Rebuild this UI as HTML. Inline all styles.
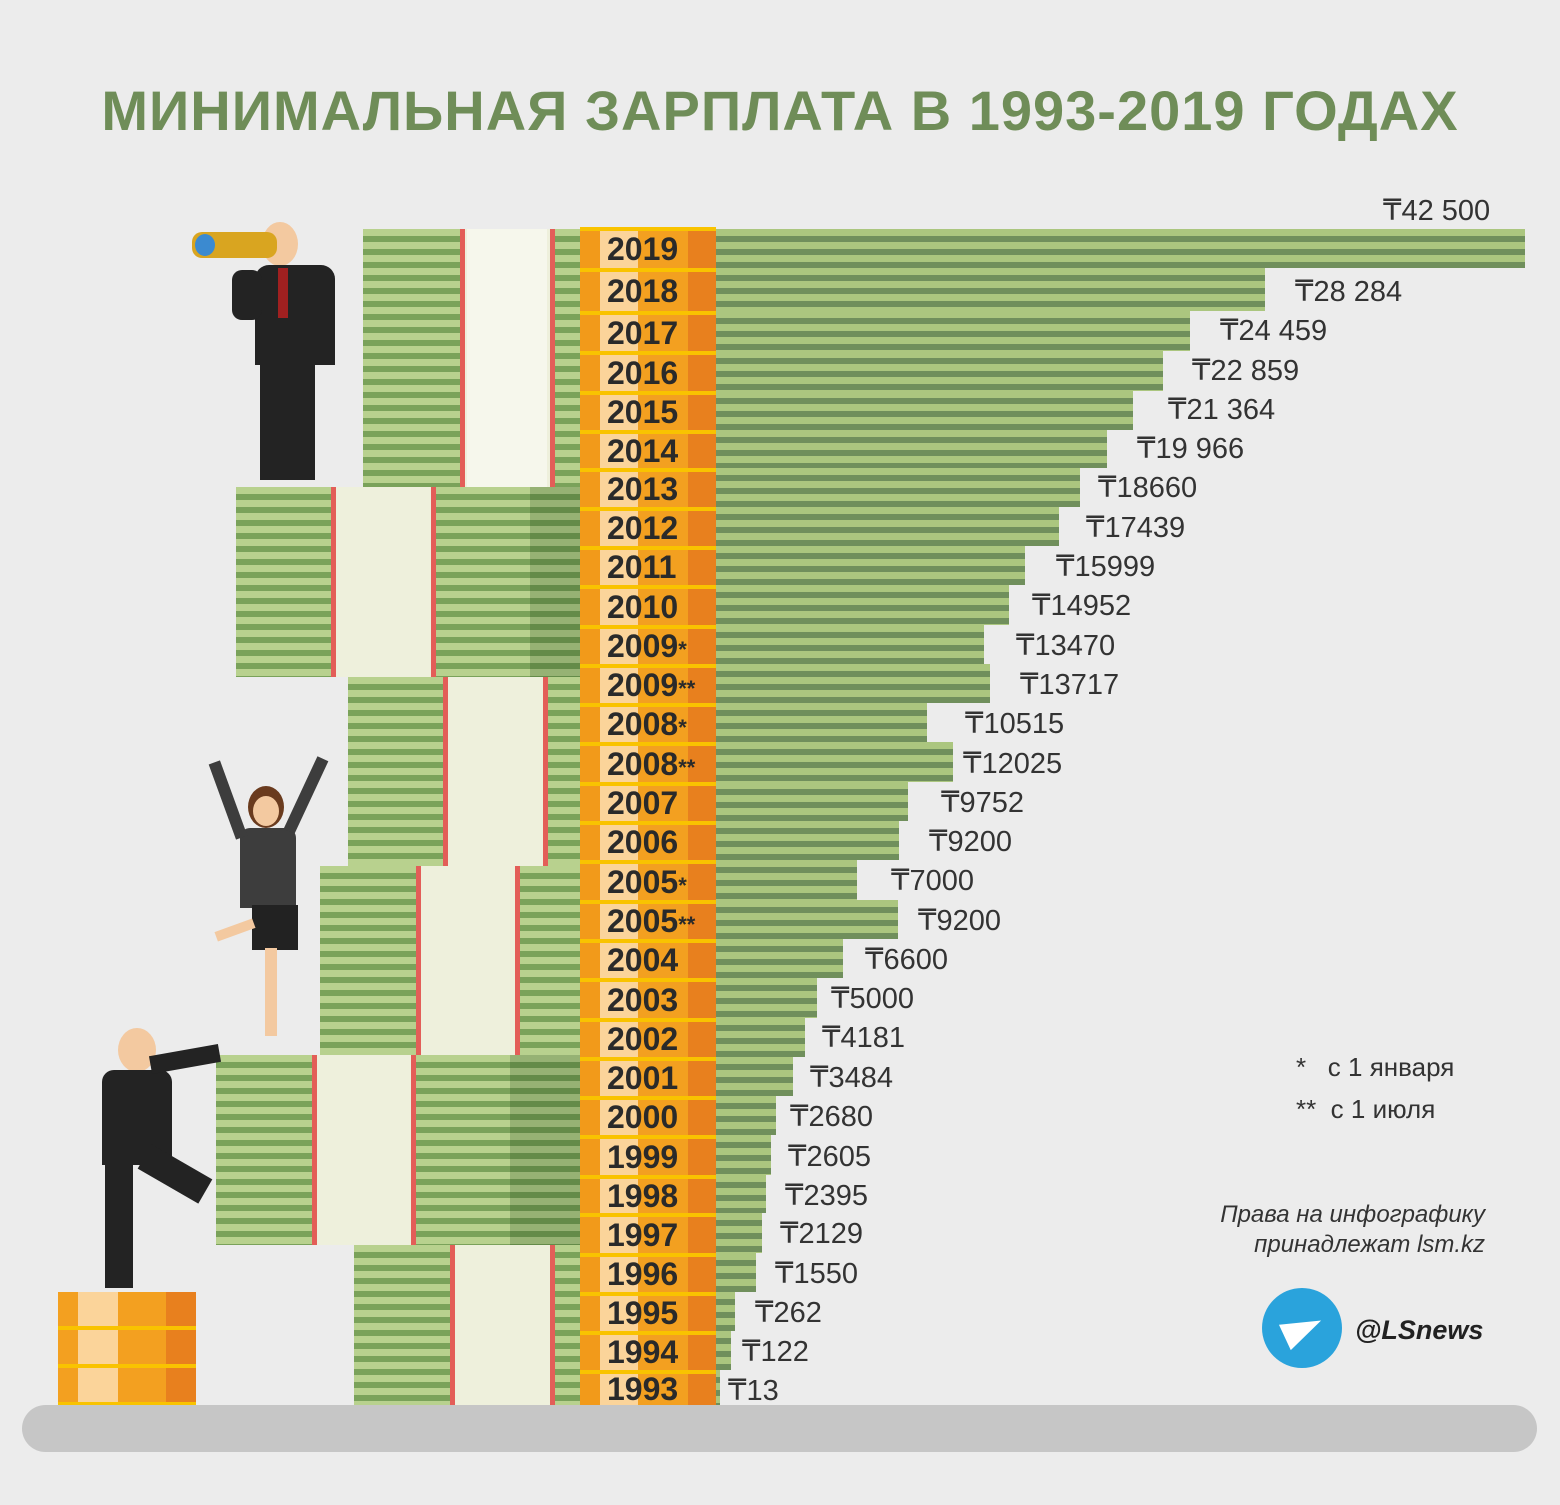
<!DOCTYPE html>
<html><head><meta charset="utf-8"><style>
body{margin:0;width:1560px;height:1505px;background:#ececec;position:relative;overflow:hidden;font-family:"Liberation Sans","DejaVu Sans",sans-serif}
div{position:absolute;box-sizing:border-box}
.t{left:0;width:1560px;top:78px;text-align:center;font-size:56px;font-weight:bold;color:#6f8d58;letter-spacing:1px}
.bar{left:716px;background:repeating-linear-gradient(180deg,#abc67f 0,#abc67f 7px,#708f5c 7px,#708f5c 13px);}
.yr{left:580px;width:136px;background:linear-gradient(90deg,#f29a1a 0,#f29a1a 20px,#fbd49a 20px,#fbd49a 58px,#f3a020 58px,#f3a020 108px,#e8801e 108px);border-top:4px solid #f9c300;font-weight:bold;font-size:32px;color:#2a2a2a;display:flex;align-items:center}
.yr span{width:136px;text-align:left;padding-left:27px;white-space:nowrap}
.yr small{font-size:22px}
.lb{font-size:29px;color:#333;white-space:nowrap}
.st{background:repeating-linear-gradient(180deg,#b8d18e 0,#b8d18e 7px,#7aa25a 7px,#7aa25a 13px)}
.bd{background:#eef0dc;border-left:5px solid #e35e58;border-right:5px solid #e35e58}
.suit{background:#232323}
</style></head><body>
<div class="t">МИНИМАЛЬНАЯ ЗАРПЛАТА В 1993-2019 ГОДАХ</div>

<div class="st" style="left:363px;top:229px;width:217px;height:258px"></div>
<div class="bd" style="left:460px;top:229px;width:95px;height:258px"><div style="left:2px;width:80px;top:0;bottom:0;background:#f6f7ec"></div></div>
<div class="st" style="left:236px;top:487px;width:344px;height:190px"></div>
<div style="left:530px;top:487px;width:50px;height:190px;background:rgba(0,40,0,.18)"></div>
<div class="bd" style="left:331px;top:487px;width:105px;height:190px"></div>
<div class="st" style="left:348px;top:677px;width:232px;height:189px"></div>
<div class="bd" style="left:443px;top:677px;width:105px;height:189px"></div>
<div class="st" style="left:320px;top:866px;width:260px;height:189px"></div>
<div class="bd" style="left:416px;top:866px;width:104px;height:189px"></div>
<div class="st" style="left:216px;top:1055px;width:364px;height:190px"></div>
<div style="left:510px;top:1055px;width:70px;height:190px;background:rgba(0,40,0,.18)"></div>
<div class="bd" style="left:312px;top:1055px;width:104px;height:190px"></div>
<div class="st" style="left:354px;top:1245px;width:226px;height:160px"></div>
<div class="bd" style="left:450px;top:1245px;width:105px;height:160px"></div>
<div style="left:58px;top:1292px;width:138px;height:113px;background:repeating-linear-gradient(180deg,#f3a020 0,#f3a020 34px,#f9c300 34px,#f9c300 38px)"></div>
<div style="left:78px;top:1292px;width:40px;height:113px;background:repeating-linear-gradient(180deg,#fbd49a 0,#fbd49a 34px,transparent 34px,transparent 38px)"></div>
<div style="left:166px;top:1292px;width:30px;height:113px;background:repeating-linear-gradient(180deg,#e8801e 0,#e8801e 34px,transparent 34px,transparent 38px)"></div>
<div style="left:22px;top:1405px;width:1515px;height:47px;border-radius:24px;background:#c6c6c6"></div>

<div style="left:262px;top:222px;width:36px;height:44px;border-radius:50%;background:#f3c9a0"></div>
<div style="left:192px;top:232px;width:85px;height:26px;border-radius:10px;background:#d9a520"></div>
<div style="left:195px;top:234px;width:20px;height:22px;border-radius:50%;background:#3b8ad0"></div>
<div class="suit" style="left:255px;top:265px;width:80px;height:100px;border-radius:14px 14px 0 0"></div>
<div class="suit" style="left:232px;top:270px;width:30px;height:50px;border-radius:10px"></div>
<div class="suit" style="left:260px;top:360px;width:55px;height:120px"></div>
<div style="left:278px;top:268px;width:10px;height:50px;background:#a02020"></div>

<div style="left:248px;top:786px;width:36px;height:42px;border-radius:50%;background:#6a3b1e"></div>
<div style="left:253px;top:796px;width:26px;height:30px;border-radius:50%;background:#f3c9a0"></div>
<div style="left:240px;top:828px;width:56px;height:80px;border-radius:10px 10px 0 0;background:#3d3d3d"></div>
<div style="left:252px;top:905px;width:46px;height:45px;background:#222"></div>
<div style="left:222px;top:760px;width:12px;height:80px;background:#3d3d3d;transform:rotate(-20deg)"></div>
<div style="left:300px;top:755px;width:12px;height:80px;background:#3d3d3d;transform:rotate(25deg)"></div>
<div style="left:265px;top:948px;width:12px;height:88px;background:#f3c9a0"></div>
<div style="left:215px;top:925px;width:40px;height:10px;background:#f3c9a0;transform:rotate(-20deg)"></div>

<div style="left:118px;top:1028px;width:38px;height:44px;border-radius:50%;background:#f3c9a0"></div>
<div class="suit" style="left:102px;top:1070px;width:70px;height:95px;border-radius:12px 12px 0 0"></div>
<div class="suit" style="left:150px;top:1050px;width:70px;height:18px;transform:rotate(-10deg)"></div>
<div class="suit" style="left:105px;top:1160px;width:28px;height:128px"></div>
<div class="suit" style="left:140px;top:1160px;width:70px;height:28px;transform:rotate(30deg)"></div>

<div class="bar" style="top:229px;height:39px;width:809px"></div>
<div class="bar" style="top:268px;height:43px;width:549px"></div>
<div class="bar" style="top:311px;height:40px;width:474px"></div>
<div class="bar" style="top:351px;height:40px;width:447px"></div>
<div class="bar" style="top:391px;height:39px;width:417px"></div>
<div class="bar" style="top:430px;height:38px;width:391px"></div>
<div class="bar" style="top:468px;height:39px;width:364px"></div>
<div class="bar" style="top:507px;height:39px;width:343px"></div>
<div class="bar" style="top:546px;height:39px;width:309px"></div>
<div class="bar" style="top:585px;height:40px;width:293px"></div>
<div class="bar" style="top:625px;height:39px;width:268px"></div>
<div class="bar" style="top:664px;height:39px;width:274px"></div>
<div class="bar" style="top:703px;height:39px;width:211px"></div>
<div class="bar" style="top:742px;height:40px;width:237px"></div>
<div class="bar" style="top:782px;height:39px;width:192px"></div>
<div class="bar" style="top:821px;height:39px;width:183px"></div>
<div class="bar" style="top:860px;height:40px;width:141px"></div>
<div class="bar" style="top:900px;height:39px;width:182px"></div>
<div class="bar" style="top:939px;height:39px;width:127px"></div>
<div class="bar" style="top:978px;height:40px;width:101px"></div>
<div class="bar" style="top:1018px;height:39px;width:89px"></div>
<div class="bar" style="top:1057px;height:39px;width:77px"></div>
<div class="bar" style="top:1096px;height:39px;width:60px"></div>
<div class="bar" style="top:1135px;height:40px;width:55px"></div>
<div class="bar" style="top:1175px;height:38px;width:50px"></div>
<div class="bar" style="top:1213px;height:40px;width:46px"></div>
<div class="bar" style="top:1253px;height:39px;width:40px"></div>
<div class="bar" style="top:1292px;height:39px;width:19px"></div>
<div class="bar" style="top:1331px;height:39px;width:15px"></div>
<div class="bar" style="top:1370px;height:35px;width:4px"></div>

<div class="yr" style="top:227px;height:41px"><span>2019</span></div>
<div class="yr" style="top:268px;height:43px"><span>2018</span></div>
<div class="yr" style="top:311px;height:40px"><span>2017</span></div>
<div class="yr" style="top:351px;height:40px"><span>2016</span></div>
<div class="yr" style="top:391px;height:39px"><span>2015</span></div>
<div class="yr" style="top:430px;height:38px"><span>2014</span></div>
<div class="yr" style="top:468px;height:39px"><span>2013</span></div>
<div class="yr" style="top:507px;height:39px"><span>2012</span></div>
<div class="yr" style="top:546px;height:39px"><span>2011</span></div>
<div class="yr" style="top:585px;height:40px"><span>2010</span></div>
<div class="yr" style="top:625px;height:39px"><span>2009<small>*</small></span></div>
<div class="yr" style="top:664px;height:39px"><span>2009<small>**</small></span></div>
<div class="yr" style="top:703px;height:39px"><span>2008<small>*</small></span></div>
<div class="yr" style="top:742px;height:40px"><span>2008<small>**</small></span></div>
<div class="yr" style="top:782px;height:39px"><span>2007</span></div>
<div class="yr" style="top:821px;height:39px"><span>2006</span></div>
<div class="yr" style="top:860px;height:40px"><span>2005<small>*</small></span></div>
<div class="yr" style="top:900px;height:39px"><span>2005<small>**</small></span></div>
<div class="yr" style="top:939px;height:39px"><span>2004</span></div>
<div class="yr" style="top:978px;height:40px"><span>2003</span></div>
<div class="yr" style="top:1018px;height:39px"><span>2002</span></div>
<div class="yr" style="top:1057px;height:39px"><span>2001</span></div>
<div class="yr" style="top:1096px;height:39px"><span>2000</span></div>
<div class="yr" style="top:1135px;height:40px"><span>1999</span></div>
<div class="yr" style="top:1175px;height:38px"><span>1998</span></div>
<div class="yr" style="top:1213px;height:40px"><span>1997</span></div>
<div class="yr" style="top:1253px;height:39px"><span>1996</span></div>
<div class="yr" style="top:1292px;height:39px"><span>1995</span></div>
<div class="yr" style="top:1331px;height:39px"><span>1994</span></div>
<div class="yr" style="top:1370px;height:35px"><span>1993</span></div>

<div class="lb" style="left:1383px;top:193px">₸42 500</div>
<div class="lb" style="left:1295px;top:274px">₸28 284</div>
<div class="lb" style="left:1220px;top:313px">₸24 459</div>
<div class="lb" style="left:1192px;top:353px">₸22 859</div>
<div class="lb" style="left:1168px;top:392px">₸21 364</div>
<div class="lb" style="left:1137px;top:431px">₸19 966</div>
<div class="lb" style="left:1098px;top:470px">₸18660</div>
<div class="lb" style="left:1086px;top:510px">₸17439</div>
<div class="lb" style="left:1056px;top:549px">₸15999</div>
<div class="lb" style="left:1032px;top:588px">₸14952</div>
<div class="lb" style="left:1016px;top:628px">₸13470</div>
<div class="lb" style="left:1020px;top:667px">₸13717</div>
<div class="lb" style="left:965px;top:706px">₸10515</div>
<div class="lb" style="left:963px;top:746px">₸12025</div>
<div class="lb" style="left:941px;top:785px">₸9752</div>
<div class="lb" style="left:929px;top:824px">₸9200</div>
<div class="lb" style="left:891px;top:863px">₸7000</div>
<div class="lb" style="left:918px;top:903px">₸9200</div>
<div class="lb" style="left:865px;top:942px">₸6600</div>
<div class="lb" style="left:831px;top:981px">₸5000</div>
<div class="lb" style="left:822px;top:1020px">₸4181</div>
<div class="lb" style="left:810px;top:1060px">₸3484</div>
<div class="lb" style="left:790px;top:1099px">₸2680</div>
<div class="lb" style="left:788px;top:1139px">₸2605</div>
<div class="lb" style="left:785px;top:1178px">₸2395</div>
<div class="lb" style="left:780px;top:1216px">₸2129</div>
<div class="lb" style="left:775px;top:1256px">₸1550</div>
<div class="lb" style="left:755px;top:1295px">₸262</div>
<div class="lb" style="left:742px;top:1334px">₸122</div>
<div class="lb" style="left:728px;top:1373px">₸13</div>

<div class="lb" style="left:1296px;top:1052px;font-size:26px">*&nbsp;&nbsp;&nbsp;с 1 января</div>
<div class="lb" style="left:1296px;top:1094px;font-size:26px">**&nbsp;&nbsp;с 1 июля</div>
<div style="left:1100px;top:1200px;width:385px;text-align:right;font-size:24px;font-style:italic;color:#333;line-height:30px">Права на инфографику<br>принадлежат lsm.kz</div>
<div style="left:1262px;top:1288px;width:80px;height:80px;border-radius:50%;background:#2aa3dc"></div>
<div style="left:1283px;top:1315px;width:0;height:0;border-left:40px solid #fff;border-top:14px solid transparent;border-bottom:14px solid transparent;transform:rotate(-25deg)"></div>
<div style="left:1355px;top:1315px;font-size:27px;font-weight:bold;font-style:italic;color:#222">@LSnews</div>
</body></html>
